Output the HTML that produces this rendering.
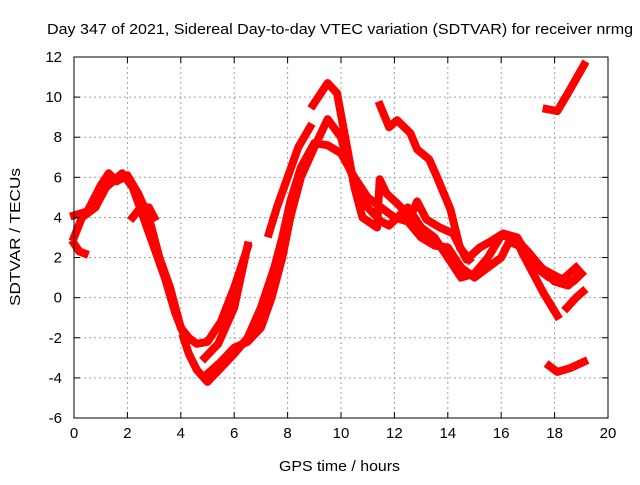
<!DOCTYPE html>
<html><head><meta charset="utf-8"><style>
body{margin:0;background:#fff}
svg text{font-family:"Liberation Sans",sans-serif;font-size:15px;fill:#000}
</style></head><body>
<svg id="c" width="640" height="480">
<text x="47" y="34" textLength="586" lengthAdjust="spacingAndGlyphs">Day 347 of 2021, Sidereal Day-to-day VTEC variation (SDTVAR) for receiver nrmg</text>
<text x="279" y="471" textLength="121" lengthAdjust="spacingAndGlyphs">GPS time / hours</text>
<text x="20" y="237" text-anchor="middle" transform="rotate(-90 20 237)" textLength="138" lengthAdjust="spacingAndGlyphs">SDTVAR / TECUs</text>
<g id="grid"></g><g id="series"></g><g id="axes"></g>
</svg>
<script>
const xTicks=[0,2,4,6,8,10,12,14,16,18,20];
const yTicks=[-6,-4,-2,0,2,4,6,8,10,12];
const s1T=[0,0.5,1.0,1.3,1.6,2.0,2.4,2.8,3.2,3.6,4.0,4.3,4.6,5.0,5.5,6.0,6.5];
const s1V=[4.1,4.3,5.6,6.2,5.8,6.1,5.2,4.0,2.0,0.5,-1.5,-2.0,-2.3,-2.2,-1.2,0.5,2.5];
const s2T=[0,0.3,0.8,1.2,1.8,2.2,2.6,3.0,3.4,3.8,4.1];
const s2V=[3.0,4.0,4.5,5.5,6.2,5.5,4.0,2.5,1.0,-0.8,-1.8];
const s3T=[0,0.2,0.4];
const s3V=[2.7,2.3,2.2];
const s4T=[2.2,2.5,2.8,3.0];
const s4V=[4.0,4.5,4.5,4.0];
const s5T=[4.1,4.3,4.6,5.0,5.5,6.0,6.5,7.0,7.5,7.8,8.1,8.5,9.0,9.5,10.0,10.5,11.0,11.5,12.0,12.5,13.0,13.5,14.0,14.5,15.0,15.5,16.0,16.3,16.8,17.3,17.8,18.3,18.7,19.0];
const s5V=[-2.0,-2.8,-3.6,-4.2,-3.5,-2.8,-2.0,-0.5,1.5,3.0,4.8,6.5,7.7,7.6,7.2,6.0,5.0,4.5,4.0,3.8,3.0,2.6,2.5,1.5,1.0,1.5,2.0,2.8,2.5,1.5,1.0,0.8,0.8,1.2];
const s6T=[5.0,5.5,6.0,6.5,7.0,7.4,7.8,8.1,8.5,9.0,9.5,10.0,10.3,10.6,11.0,11.5,11.8,12.5,13.0,13.5,14.0,14.5,15.0,15.5,16.0,16.5,17.0,17.5,18.0,18.5,19.0];
const s6V=[-3.8,-3.2,-2.5,-2.2,-1.5,0,2.0,4.0,6.0,7.5,8.9,8.0,6.5,5.5,4.5,3.8,3.6,4.5,3.5,3.0,2.0,1.0,1.2,2.0,3.1,3.0,2.3,1.5,0.8,0.6,1.2];
const s7T=[7.3,7.6,8.0,8.4,8.84];
const s7V=[3.2,4.5,6.0,7.5,8.5];
const s8T=[8.95,9.5,9.85,10.2,10.5,10.8,11.35,11.45,11.7,12.1,12.6,12.85,13.2,13.7,14.2,14.7,15.2,15.6,16.07,16.6,17.1,17.6,18.3,18.8];
const s8V=[9.6,10.7,10.2,7.7,5.5,4.0,3.5,5.9,5.2,4.7,4.0,4.8,3.9,3.5,3.2,1.9,2.5,2.8,3.2,3.0,1.9,1.4,0.9,1.5];
const s9T=[11.46,11.8,12.1,12.6,12.85,13.3,13.6,14.1,14.45,14.8];
const s9V=[9.6,8.5,8.85,8.2,7.4,6.9,6.0,4.4,2.5,1.9];
const s10T=[16.6,16.8,17.2,17.6,18.1];
const s10V=[2.8,2.2,1.2,0.2,-0.9];
const s11T=[18.46,18.8,19.06];
const s11V=[-0.5,0.0,0.3];
const s12T=[17.7,18.1,18.5,19.1];
const s12V=[9.4,9.3,10.2,11.6];
const s13T=[17.8,18.1,18.6,19.1];
const s13V=[-3.4,-3.7,-3.5,-3.2];
const s14T=[4.9,5.4,6.0,6.5];
const s14V=[-3.0,-2.3,-0.5,2.6];
const seriesT=[s1T,s2T,s3T,s4T,s5T,s6T,s7T,s8T,s9T,s10T,s11T,s12T,s13T,s14T];
const seriesV=[s1V,s2V,s3V,s4V,s5V,s6V,s7V,s8V,s9V,s10V,s11V,s12V,s13V,s14V];
const L=74,R=608,T=57,B=418;
const xs=t=>L+t/20*(R-L);
const ys=v=>B-(v+6)/18*(B-T);
const NS='http://www.w3.org/2000/svg';
function mk(tag,attrs,parent){const e=document.createElementNS(NS,tag);for(const k in attrs)e.setAttribute(k,attrs[k]);parent.appendChild(e);return e;}
const grid=document.getElementById('grid'),axes=document.getElementById('axes'),ser=document.getElementById('series');
xTicks.forEach(t=>{
  if(t>0&&t<20){const g=mk('line',{x1:xs(t),x2:xs(t),y1:T,y2:B,stroke:'#a0a0a0','stroke-dasharray':'2,3'},grid);
  
  }
  const k=mk('line',{x1:xs(t),x2:xs(t),y1:B,y2:B-6,stroke:'#000'},axes);
  
  
  const k2=mk('line',{x1:xs(t),x2:xs(t),y1:T,y2:T+6,stroke:'#000'},axes);
  
  
  const lb=mk('text',{x:xs(t),y:B+20,'text-anchor':'middle'},axes);lb.textContent=t;
  
  
});
yTicks.forEach(v=>{
  if(v>-6&&v<12){const g=mk('line',{x1:L,x2:R,y1:ys(v),y2:ys(v),stroke:'#a0a0a0','stroke-dasharray':'2,3'},grid);
  
  }
  const k=mk('line',{x1:L,x2:L+6,y1:ys(v),y2:ys(v),stroke:'#000'},axes);
  
  
  const k2=mk('line',{x1:R,x2:R-6,y1:ys(v),y2:ys(v),stroke:'#000'},axes);
  
  
  const lb=mk('text',{x:L-12,y:ys(v)+5,'text-anchor':'end'},axes);lb.textContent=v;
  
  
});
const fr=mk('rect',{x:L,y:T,width:R-L,height:B-T,fill:'none',stroke:'#000'},axes);


seriesT.forEach((ts,i)=>{
  const vs=seriesV[i];
  const pts=ts.map((t,j)=>xs(t).toFixed(1)+','+ys(vs[j]).toFixed(1)).join(' ');
  const p=mk('polyline',{points:pts,fill:'none',stroke:'#ff0000','stroke-width':8,'stroke-linejoin':'round','stroke-linecap':'square'},ser);
  
  
});
</script>
</body></html>
